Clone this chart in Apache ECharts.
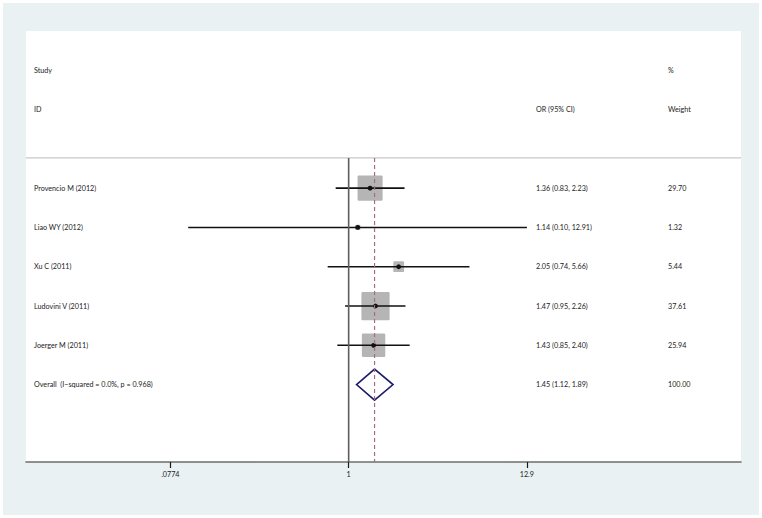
<!DOCTYPE html>
<html>
<head>
<meta charset="utf-8">
<script src="https://cdn.jsdelivr.net/npm/echarts@6/dist/echarts.min.js"></script>
<style>
html,body{margin:0;padding:0;background:#ffffff;}
#chart{width:762px;height:518px;}
</style>
</head>
<body>
<div id="chart"></div>
<script>
// ---- data ----
const studies = ['Provencio M (2012)', 'Liao WY (2012)', 'Xu C (2011)', 'Ludovini V (2011)', 'Joerger M (2011)'];
const orValues = [1.36, 1.14, 2.05, 1.47, 1.43];
const ciLow = [0.83, 0.10, 0.74, 0.95, 0.85];
const ciHigh = [2.23, 12.91, 5.66, 2.26, 2.40];
const weights = [29.70, 1.32, 5.44, 37.61, 25.94];
const ciText = ['1.36 (0.83, 2.23)', '1.14 (0.10, 12.91)', '2.05 (0.74, 5.66)', '1.47 (0.95, 2.26)', '1.43 (0.85, 2.40)'];
const weightText = ['29.70', '1.32', '5.44', '37.61', '25.94'];
const overallLabel = 'Overall  (I\u2212squared = 0.0%, p = 0.968)';
const overallOR = [1.45, 1.12, 1.89]; // estimate, low, high
const overallCIText = '1.45 (1.12, 1.89)';
const overallWeightText = '100.00';
const headerTop = ['Study', '', '%'];
const headerBottom = ['ID', 'OR (95% CI)', 'Weight'];
const tickValues = [0.0774, 1, 12.9];
const tickLabels = ['.0774', '1', '12.9'];

// ---- layout ----
const ln = Math.log;
const Y_MAX = 10.97;
const SEP_ROW = 3.23;
const ROW_STUDY0 = 4;
const ROW_OVERALL = ROW_STUDY0 + studies.length;
const COL_X = [34, 536, 668];
const FONT = 'Lato, "Open Sans", sans-serif';
const TEXT_COLOR = '#222222';

const chart = echarts.init(document.getElementById('chart'), null, {renderer: 'svg'});

const studyData = studies.map((s, i) => [ln(orValues[i]), ROW_STUDY0 + i, ln(ciLow[i]), ln(ciHigh[i]), weights[i]]);

const textRows = [];
headerTop.forEach((t, c) => { if (t) textRows.push([1, c, t]); });
headerBottom.forEach((t, c) => textRows.push([2, c, t]));
studies.forEach((s, i) => {
  textRows.push([ROW_STUDY0 + i, 0, s]);
  textRows.push([ROW_STUDY0 + i, 1, ciText[i]]);
  textRows.push([ROW_STUDY0 + i, 2, weightText[i]]);
});
textRows.push([ROW_OVERALL, 0, overallLabel]);
textRows.push([ROW_OVERALL, 1, overallCIText]);
textRows.push([ROW_OVERALL, 2, overallWeightText]);

const tickLn = tickValues.map(v => ln(v));

chart.setOption({
  backgroundColor: '#ffffff',
  animation: false,
  graphic: [{
    type: 'rect', z: -10, silent: true,
    shape: {x: 3, y: 3, width: 756, height: 512},
    style: {fill: '#eaf1f3'}
  }],
  grid: {left: 26, top: 31, right: 21, bottom: 56, show: true, backgroundColor: '#ffffff', borderWidth: 0},
  xAxis: {
    type: 'value', min: -4.63, max: 5.63, position: 'bottom',
    axisLine: {show: true, onZero: false, lineStyle: {color: '#6e6e6e', width: 1.6}},
    axisTick: {show: true, customValues: tickLn, length: 6, lineStyle: {color: '#1a1a1a', width: 1.2}},
    axisLabel: {
      customValues: tickLn, margin: 9, fontSize: 7.2, fontFamily: FONT, color: TEXT_COLOR,
      formatter: function (v) {
        let best = 0;
        tickLn.forEach((t, i) => { if (Math.abs(t - v) < Math.abs(tickLn[best] - v)) best = i; });
        return tickLabels[best];
      }
    },
    splitLine: {show: false}
  },
  yAxis: {type: 'value', min: 0, max: Y_MAX, inverse: true, show: false, splitLine: {show: false}},
  series: [
    {
      // header separator
      type: 'line', silent: true, symbol: 'none',
      data: [[-4.63, SEP_ROW], [5.63, SEP_ROW]],
      lineStyle: {color: '#c8c8c8', width: 1.2}
    },
    {
      // null line at OR = 1
      type: 'line', silent: true, symbol: 'none',
      data: [[ln(1), SEP_ROW], [ln(1), Y_MAX]],
      lineStyle: {color: '#5e5e5e', width: 1.6}
    },
    {
      // overall estimate dashed line
      type: 'line', silent: true, symbol: 'none',
      data: [[ln(overallOR[0]), SEP_ROW], [ln(overallOR[0]), Y_MAX]],
      lineStyle: {color: '#a86a86', width: 1.2, type: [4, 3]}
    },
    {
      // study boxes, CI lines and point estimates
      type: 'custom', silent: true,
      data: studyData,
      renderItem: function (params, api) {
        const c = api.coord([api.value(0), api.value(1)]);
        const lo = api.coord([api.value(2), api.value(1)]);
        const hi = api.coord([api.value(3), api.value(1)]);
        const side = 4.6 * Math.sqrt(api.value(4));
        return {
          type: 'group',
          children: [
            {type: 'rect', shape: {x: c[0] - side / 2, y: c[1] - side / 2, width: side, height: side, r: 1.2}, style: {fill: '#b5b5b5'}},
            {type: 'line', shape: {x1: lo[0], y1: lo[1], x2: hi[0], y2: hi[1]}, style: {stroke: '#111111', lineWidth: 1.6}},
            {type: 'circle', shape: {cx: c[0], cy: c[1], r: 2.4}, style: {fill: '#111111'}}
          ]
        };
      }
    },
    {
      // overall diamond
      type: 'custom', silent: true,
      data: [[ln(overallOR[0]), ROW_OVERALL, ln(overallOR[1]), ln(overallOR[2])]],
      renderItem: function (params, api) {
        const c = api.coord([api.value(0), api.value(1)]);
        const lo = api.coord([api.value(2), api.value(1)]);
        const hi = api.coord([api.value(3), api.value(1)]);
        const h = 15.5;
        return {
          type: 'polygon',
          shape: {points: [[lo[0], c[1]], [c[0], c[1] - h], [hi[0], c[1]], [c[0], c[1] + h]]},
          style: {fill: 'rgba(255,255,255,0)', stroke: '#1c1c6b', lineWidth: 1.6}
        };
      }
    },
    {
      // text columns
      type: 'custom', silent: true,
      itemStyle: {color: TEXT_COLOR},
      data: textRows,
      renderItem: function (params, api) {
        const row = api.value(0);
        const col = api.value(1);
        const t = textRows[params.dataIndex][2];
        const y = api.coord([0, row])[1];
        return {
          type: 'text', x: COL_X[col], y: y,
          style: {text: t, fill: TEXT_COLOR, fontSize: 7.2, fontFamily: FONT, textAlign: 'left', textVerticalAlign: 'middle'}
        };
      }
    }
  ]
});
</script>
</body>
</html>
